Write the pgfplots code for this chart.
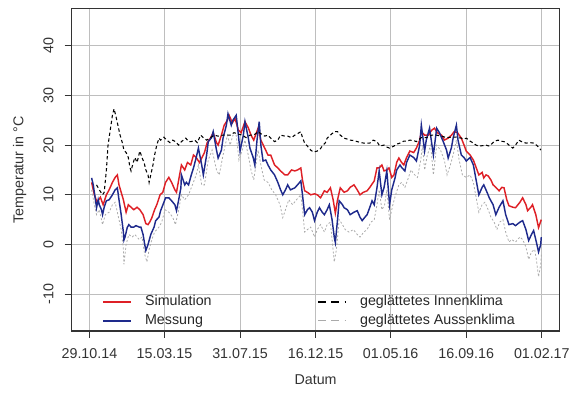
\documentclass[border=0pt]{standalone}
\usepackage{fontspec}
\setmainfont{Liberation Sans}
\usepackage{pgfplots}
\pgfplotsset{compat=1.18}
\usepackage{pgfplotstable}

\definecolor{simred}{RGB}{222,32,38}
\definecolor{mesblue}{RGB}{30,42,140}
\definecolor{outgray}{RGB}{170,170,170}
\definecolor{gridgray}{RGB}{190,190,190}

\pgfplotstableread{
d T
4 12.5
9 10
14 8.5
20 9.5
25 8
31 10
36 11
42 12.5
47 13.5
51 14
54 12
58 10.5
62 9
65 7.5
67 6.5
71 8
76 7.5
81 7
87 7.5
92 7
98 6
103 4.2
107 4
110 4.5
114 5.4
119 7
123 8
129 10
134 10.5
139 12.5
145 13.5
150 12.5
156 11
159 10.5
163 13
168 16
174 15
179 16.5
185 16
190 18
195 17.5
201 16.5
205 17.4
210 18.5
215 20.5
221 21.4
226 22.5
232 20.5
235 20
241 22
246 24
252 25
255 26
261 24.5
266 25.3
272 23
277 22.5
284 24.7
290 23.5
295 22
300 21
308 23.4
313 21
320 19.4
326 18
331 18
338 16
344 15.4
349 14.8
357 14
362 14
369 15
375 14.8
380 15
386 15.4
389 13
393 10.8
398 10.5
404 10
411 10.2
416 10
422 9.4
429 10.8
434 10.5
440 11.4
445 9
449 6.3
453 9
458 11.4
465 10.5
471 10.8
476 11.5
483 12
489 11
494 10
500 10.5
507 10.8
512 11.5
520 12.8
525 15.4
529 15.4
534 16
538 14.8
543 15
547 15.4
552 13.5
556 14
561 16.5
565 17.4
570 16.5
574 16
579 17.5
585 18.8
592 18.5
597 19.4
603 21
606 22.7
612 22
619 22
625 23
630 23.4
635 22.5
643 22
648 21
655 21.4
661 22
666 22.7
672 22.5
679 21.4
684 20
688 18.8
695 18
701 17
706 15.5
711 14
717 14.5
720 13.4
724 14
728 13.8
733 13
737 12
742 11.5
748 10.8
753 11.5
757 11.4
762 9
766 7.8
773 7.5
778 7.4
786 8.5
791 9.4
797 8
800 6.8
806 7.5
809 8
815 6
820 3.4
825 5
}\simtable

\pgfplotstableread{
d T
4 13.4
7 12
11 9
13 7.4
16 9
18 8
22 7
24 6
27 7.5
31 8.8
36 9
42 10
47 11
51 11.4
54 9
58 6
62 2.5
63 0.9
65 1.5
69 3.4
72 4
76 3.5
81 3.5
85 3.8
91 3.5
94 3.5
98 2
101 0
103 -1.2
107 0
112 2
118 3.5
121 4.8
127 5.5
130 6.8
136 8.5
139 9.4
145 9.4
150 8.8
156 8
159 6.8
163 9
167 11.4
168 14
174 12
177 12.5
181 12
186 14
190 15.4
195 17.5
199 19.4
205 16
208 14
214 18
217 20.7
223 21.5
226 22.7
232 19
235 17.4
241 19
244 21.4
250 24
253 26.3
259 24
262 25
268 26
272 22
275 18.8
281 22
284 24.7
290 21.5
293 19.4
299 17.5
302 16
306 21
310 24.7
313 20
317 16.8
322 17
326 16
331 15
338 14
344 12.5
349 11
353 10
358 11
362 12
367 11
375 11.4
380 12
386 12.8
389 10
393 6
398 7
402 7.4
407 6.5
411 4.8
416 6.5
420 7.4
425 6.5
429 6
434 7
438 8
443 5
447 1.5
449 0.4
453 5
456 8.8
462 8
465 7.4
471 7
476 6
483 6.5
489 6.8
494 5.5
498 4.8
503 5.5
507 6
512 7.5
516 8.8
520 8
525 11.4
529 14.8
534 10
538 11.5
543 14.8
548 8
552 11
558 13.4
561 15
567 16
570 15.5
576 14.8
579 16.5
585 18
592 17.5
597 16.8
603 20
606 24
612 18.8
615 21
621 23.4
628 18
634 23.4
639 22.5
646 20.7
652 19
655 17.4
661 19.5
664 21.4
670 24
673 21
679 18
684 17.5
688 16.8
695 17.5
701 16
706 13
711 10
717 11.5
720 12
726 10.5
730 9.4
737 8
742 6
748 7.5
755 8.8
760 6
766 4
773 4.2
778 3.8
786 4.5
791 4.8
797 3
802 0.8
807 2
811 2.8
816 0.5
820 -1.5
824 0
825 1.5
}\mestable

\pgfplotstableread{
d T
4 11
9 8
13 6
18 7
24 4
29 6
36 6.5
42 8
47 8.5
52 6
58 3
62 -1
63 -4
67 0
72 2
78 1.5
83 2
91 1
96 1.5
101 -2
105 -3.5
109 -1
114 1
119 2.5
127 3.5
132 4.5
138 7
145 6.5
152 5.5
157 4
163 7
168 10
174 9
181 10
188 12
195 14
199 16
205 12
210 12
217 17
224 19
232 15
237 14
244 18
252 22
257 20
262 22
268 22
273 17
279 19
284 21
290 18
295 15
300 13
308 19
313 16
319 13
326 12.5
333 11
340 10
348 8
353 5.4
358 7
364 9
371 8
378 9
386 10
389 7
393 2.5
398 3
404 3.5
411 1.5
416 3
422 4
429 2.5
434 4
440 4.5
443 1
447 -3.5
451 -1
456 5
462 4
467 3
474 2.5
482 3
489 2
494 1.5
501 2.5
507 3
514 4.5
520 5
525 8
529 11
534 7
539 8
543 11
548 5
554 8
559 10
565 12
570 12.5
576 11.5
581 13
587 15
594 14
599 13.5
605 17
608 20
612 15
617 18
623 20
628 14
634 20
641 19
648 17
653 14
659 16
664 18
670 21
675 17
681 14
688 13.5
695 14
701 12.5
706 9.5
711 6.5
717 8
722 8.5
728 7
733 5.5
739 4.5
744 3
749 4.5
755 5
760 2.5
766 0.5
771 1
778 0.5
786 1.5
791 1
797 -0.5
802 -3
807 -1.5
813 -1
816 -3
820 -6.5
824 -4
825 -2
}\outtable

\pgfplotstableread{
d T
13 12
18 11
24 10
27 10.5
31 15
34 20
38 23
42 26
45 27.3
49 25.5
52 24
56 22
60 20.5
63 19
67 18.5
71 17.5
74 15.5
76 14.8
80 16.5
83 17.5
87 16.5
92 18.8
96 17.5
100 16.4
103 15
107 14
109 12.5
112 14
116 16
119 18
123 20
127 21.4
130 21
136 21.6
141 21
147 20.5
152 21
157 20.7
163 20
168 20.7
176 21.4
181 20.7
186 20.7
192 21
197 20.5
203 22
208 21.5
214 21
221 21.5
228 22
235 21.8
243 22
250 22
257 22
264 22.5
272 22.2
279 22
286 21.5
293 22
300 22
308 22.7
313 22.3
320 21.8
326 22
331 21.4
338 20.7
344 21
349 22
357 21.8
362 21.8
369 21.5
375 22
380 22.3
386 22.7
389 21.5
393 20.4
398 19.8
404 19
409 18.6
416 18.8
422 19.3
425 19.8
431 20.5
434 21.4
440 22
447 22.7
453 22.7
458 22
465 21.4
471 21.2
476 21
483 20.9
489 20.7
496 20.5
501 20.4
507 20.4
512 20.4
518 21
525 20.7
530 19.8
538 20
543 19.6
548 19.4
556 19.8
561 20.2
567 20.4
574 20.8
579 20.8
585 21
592 20.9
597 20.7
606 21.5
615 21.5
625 22
634 22
643 21.8
652 21.5
661 21.6
670 21.6
679 21.4
684 21.2
688 21.4
695 20.8
701 20.4
706 20
711 19.8
719 19.9
724 20
730 19.8
735 20.3
740 20.8
746 21
751 20.8
757 20.7
762 20.4
768 19.8
773 19.4
778 20
784 21
789 20.7
797 20.4
804 20.5
811 20.4
816 20
822 19.4
824 19
}\intable

\begin{document}
\begin{tikzpicture}
\begin{axis}[
  scale only axis,
  width=369.75pt, height=243.75pt,
  xmin=-33, xmax=859, ymin=-17.4, ymax=47.4,
  xtick={0,137,275,413,550,688,826},
  xticklabels={29.10.14,15.03.15,31.07.15,16.12.15,01.05.16,16.09.16,01.02.17},
  ytick={-10,0,10,20,30,40},
  /pgf/number format/assume math mode=true,
  tick pos=left,
  tick align=outside,
  major tick length=5pt,
  tick style={black!80, line width=0.6pt},
  xticklabel shift=5pt,
  yticklabel shift=5pt,
  yticklabel style={rotate=90, anchor=south},
  ticklabel style={font=\fontsize{10.8}{13}\selectfont, text=black!80},
  grid=major,
  major grid style={gridgray, line width=0.6pt},
  axis line style={black!80, line width=0.8pt},
  xlabel={Datum},
  ylabel={Temperatur in °C},
  label style={font=\fontsize{10.8}{13}\selectfont, text=black!80},
  xlabel style={at={(axis description cs:0.5,-0.1508)}, anchor=center},
  ylabel style={at={(axis description cs:-0.1055,0.5)}, anchor=center},
  legend columns=2,
  legend cell align=left,
  legend image code/.code={\draw[#1] (0pt,0pt) -- (21pt,0pt);},
  legend style={draw=none, fill=none, at={(axis description cs:0.063,0.117)}, anchor=north west,
    inner sep=0pt, row sep=1.75pt,
    font=\fontsize{10.8}{13}\selectfont,
    nodes={inner sep=1pt, text height=8pt, text depth=2.5pt, text=black!85},
    /tikz/every odd column/.append style={column sep=9pt},
    /tikz/every even column/.append style={column sep=79pt}},
]
\addplot[forget plot, outgray, line width=0.6pt, dash pattern=on 1.5pt off 1.5pt] table[x=d,y=T] {\outtable};
\addplot[forget plot, simred, line width=1.1pt] table[x=d,y=T] {\simtable};
\addplot[forget plot, mesblue, line width=1.1pt] table[x=d,y=T] {\mestable};
\addplot[forget plot, black, line width=0.8pt, dash pattern=on 2.5pt off 2pt] table[x=d,y=T] {\intable};

\addlegendimage{simred, line width=1.3pt}
\addlegendentry{Simulation}
\addlegendimage{black, line width=1.3pt, dash pattern=on 6pt off 4pt}
\addlegendentry{geglättetes Innenklima}
\addlegendimage{mesblue, line width=1.3pt}
\addlegendentry{Messung}
\addlegendimage{outgray, line width=0.8pt, dash pattern=on 6pt off 4pt}
\addlegendentry{geglättetes Aussenklima}
\end{axis}
\path (current axis.south west) ++(-54pt,-46.5pt) coordinate (bbl);
\path (current axis.north east) ++(6.75pt,6.75pt) coordinate (btr);
\path[draw=none] (bbl) rectangle (btr);
\end{tikzpicture}
\end{document}
